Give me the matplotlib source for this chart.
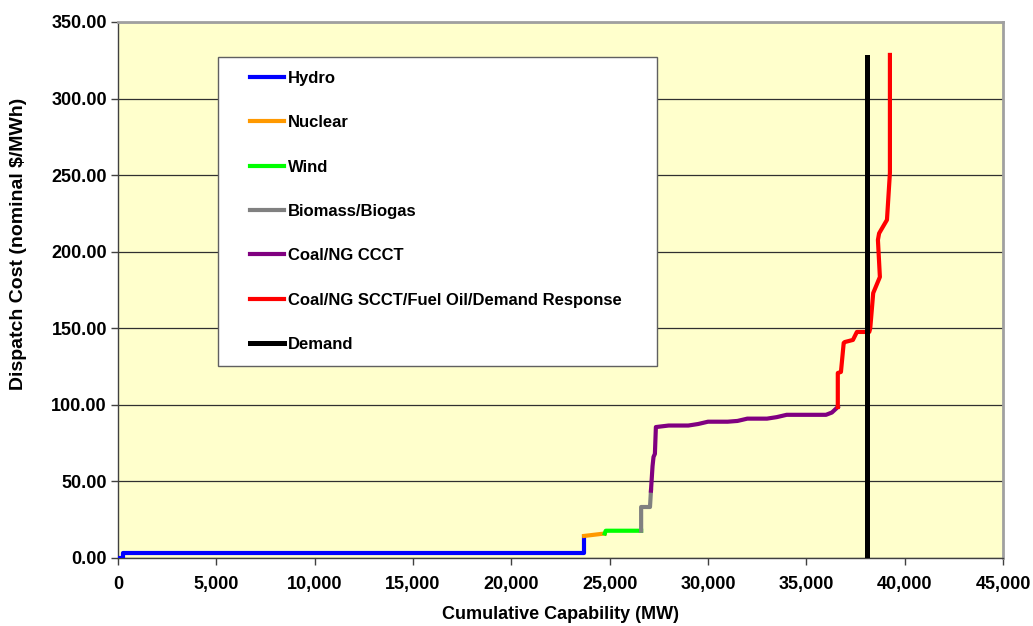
import matplotlib
matplotlib.use("Agg")
import matplotlib.pyplot as plt
import matplotlib.patches as patches
from matplotlib.ticker import FuncFormatter, MultipleLocator

plt.rcParams['font.family'] = ['Liberation Sans', 'DejaVu Sans']
plt.rcParams['font.weight'] = 'bold'

# supply stack pieces, MW (cumulative) vs dispatch cost
hydro_x = [0, 250, 250, 23700, 23700]
hydro_y = [0, 0, 3.3, 3.3, 14.0]

nuclear_x = [23700, 24750]
nuclear_y = [14.4, 16.0]

wind_x = [24750, 24800, 26600]
wind_y = [16.0, 17.8, 17.8]

biomass_x = [26600, 26600, 27050, 27100]
biomass_y = [17.8, 33.3, 33.3, 44.0]

coal_ccct_x = [27100, 27180, 27230, 27300, 27350, 28000, 29000, 29500, 30000,
               31000, 31500, 32000, 33000, 33500, 34000, 36000, 36300, 36600]
coal_ccct_y = [44.0, 60.0, 66.0, 68.0, 85.5, 86.5, 86.5, 87.5, 89.0,
               89.0, 89.5, 91.0, 91.0, 92.0, 93.5, 93.5, 95.0, 98.6]

peaker_x = [36600, 36600, 36760, 36900, 36950, 37370, 37570, 38200, 38250,
            38400, 38740, 38640, 38700, 39100, 39250, 39250]
peaker_y = [98.6, 120.8, 121.5, 140.4, 141.0, 142.4, 147.6, 147.6, 150.0,
            173.0, 183.5, 207.7, 212.0, 220.8, 251.5, 328.5]

demand_x = [38080, 38080]
demand_y = [0, 327]

W, H = 1033, 626
fig = plt.figure(figsize=(W / 100, H / 100), dpi=100)
ax = fig.add_axes([118 / W, 1 - 558 / H, (1003 - 118) / W, (558 - 22) / H])
ax.set_facecolor('#FFFFCC')

lw = 3
ax.plot(hydro_x, hydro_y, color='#0000FF', lw=lw, label='Hydro', zorder=3)
ax.plot(nuclear_x, nuclear_y, color='#FF9900', lw=lw, label='Nuclear', zorder=3)
ax.plot(wind_x, wind_y, color='#00FF00', lw=lw, label='Wind', zorder=3)
ax.plot(biomass_x, biomass_y, color='#808080', lw=lw, label='Biomass/Biogas', zorder=3)
ax.plot(coal_ccct_x, coal_ccct_y, color='#800080', lw=lw, label='Coal/NG CCCT', zorder=3)
ax.plot(peaker_x, peaker_y, color='#FF0000', lw=lw,
        label='Coal/NG SCCT/Fuel Oil/Demand Response', zorder=3)
ax.plot(demand_x, demand_y, color='black', lw=3.6, label='Demand', zorder=4)

ax.set_xlim(0, 45000)
ax.set_ylim(0, 350)
ax.xaxis.set_major_locator(MultipleLocator(5000))
ax.yaxis.set_major_locator(MultipleLocator(50))
ax.xaxis.set_major_formatter(FuncFormatter(lambda v, p: f"{int(v):,}"))
ax.yaxis.set_major_formatter(FuncFormatter(lambda v, p: f"{v:.2f}"))
ax.grid(axis='y', color='#303030', lw=0.9)
ax.set_axisbelow(True)

ax.tick_params(direction='out', length=5, width=1, color='#404040', labelsize=13)
ax.tick_params(axis='x', pad=8)
ax.tick_params(axis='y', pad=3)
for lab in ax.get_xticklabels() + ax.get_yticklabels():
    lab.set_fontweight('bold')

for s in ['left', 'bottom']:
    ax.spines[s].set_color('#404040')
    ax.spines[s].set_linewidth(1)
for s in ['top', 'right']:
    ax.spines[s].set_color('#A0A0A0')
    ax.spines[s].set_linewidth(2)


def ax_x(px):
    return (px - 118) / (1003 - 118)


def ax_y(py):
    return (558 - py) / (558 - 22)


ax.set_xlabel('Cumulative Capability (MW)', fontsize=13, fontweight='bold', labelpad=9)
ax.set_ylabel('Dispatch Cost (nominal $/MWh)', fontsize=14, fontweight='bold')
ax.yaxis.set_label_coords(ax_x(19), ax_y(244))
ax.yaxis.label.set_va('center')

# legend box (white, like the Excel legend) drawn behind the entries
box = patches.Rectangle((ax_x(218), ax_y(366)), ax_x(657) - ax_x(218), ax_y(57) - ax_y(366),
                        transform=ax.transAxes, facecolor='white', edgecolor='#606060',
                        lw=1, zorder=5)
ax.add_patch(box)

leg = ax.legend(loc='upper left', bbox_to_anchor=(ax_x(250), ax_y(71)),
                frameon=False, prop={'weight': 'bold', 'size': 12},
                handlelength=2.05, handletextpad=0.2, labelspacing=1.76,
                borderpad=0, borderaxespad=0)
leg.set_zorder(6)

fig.savefig('out.png', dpi=100)
